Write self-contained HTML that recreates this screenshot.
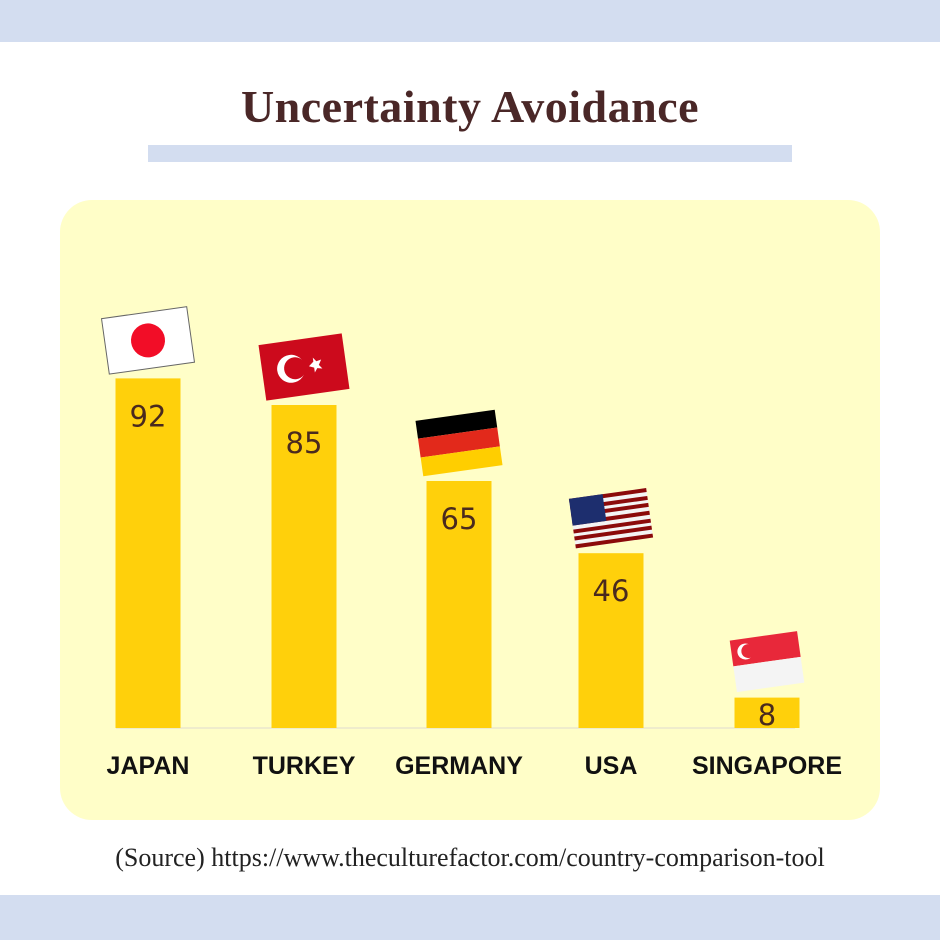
<!DOCTYPE html>
<html><head><meta charset="utf-8">
<style>
html,body{margin:0;padding:0;}
body{width:940px;height:940px;position:relative;background:#fff;overflow:hidden;font-family:"Liberation Sans",sans-serif;}
.band{position:absolute;left:0;width:940px;background:#d3ddf0;}
#title{position:absolute;left:0;width:940px;top:80px;text-align:center;font-family:"Liberation Serif",serif;font-weight:bold;font-size:46px;color:#4a2727;letter-spacing:0.5px;}
#uline{position:absolute;left:148px;top:145px;width:644px;height:17px;background:#d3ddf0;}
#panel{position:absolute;left:60px;top:200px;width:820px;height:620px;background:#fffec8;border-radius:32px;}
#source{position:absolute;left:0;width:940px;top:843px;text-align:center;font-family:"Liberation Serif",serif;font-size:26px;color:#222;}
</style></head><body>
<div class="band" style="top:0;height:42px"></div>
<div class="band" style="top:895px;height:45px"></div>
<div id="title">Uncertainty Avoidance</div>
<div id="uline"></div>
<div id="panel"></div>
<svg id="chart" width="940" height="940" style="position:absolute;left:0;top:0">
<defs>
<g id="flag-japan"><rect width="86" height="56" fill="#fff" stroke="#666" stroke-width="1"/><circle cx="43" cy="28" r="17" fill="#f20d27"/></g>
<g id="flag-turkey"><rect width="84" height="56" fill="#cc0a1c"/><circle cx="29" cy="28" r="14" fill="#fff"/><circle cx="33" cy="28" r="11" fill="#cc0a1c"/><polygon points="47,28 52,24 52,20 55,24 60,23 57,28 60,32 55,31 52,35 52,30" fill="#fff"/></g>
<g id="flag-germany"><rect width="80" height="18" y="0" fill="#000"/><rect width="80" height="19" y="18" fill="#e2291b"/><rect width="80" height="19" y="37" fill="#ffce00"/></g>
<g id="flag-usa"><rect width="78" height="50" fill="#f4f4f4"/>
<rect y="0" width="78" height="4" fill="#8b0a0a"/><rect y="8" width="78" height="4" fill="#8b0a0a"/><rect y="15" width="78" height="4" fill="#8b0a0a"/><rect y="23" width="78" height="4" fill="#8b0a0a"/><rect y="31" width="78" height="4" fill="#8b0a0a"/><rect y="38" width="78" height="4" fill="#8b0a0a"/><rect y="46" width="78" height="4" fill="#8b0a0a"/>
<rect width="34" height="27" fill="#1d2e6e"/></g>
<g id="flag-singapore"><rect width="68" height="26" fill="#e8283a"/><rect y="26" width="68" height="26" fill="#f4f4f4"/><circle cx="14" cy="13" r="8" fill="#fff"/><circle cx="17" cy="13" r="7" fill="#e8283a"/></g>
</defs>
<line x1="116" x2="795" y1="728" y2="728" stroke="#efeccc" stroke-width="2"/>
</svg>
<div id="source">(Source) https://www.theculturefactor.com/country-comparison-tool</div>
<script>
const categories = ["JAPAN","TURKEY","GERMANY","USA","SINGAPORE"];
const values = [92,85,65,46,8];
const flags = ["flag-japan","flag-turkey","flag-germany","flag-usa","flag-singapore"];
const svg = document.getElementById('chart');
const NS = 'http://www.w3.org/2000/svg';
const baseY = 728, unit = 3.8, barW = 65;
const centers = [148, 304, 459, 611, 767];
function yScale(v){ return baseY - v*unit; }
function xScale(i){ return centers[i]; }
categories.forEach((c,i)=>{
  const cx = xScale(i), top = yScale(values[i]);
  const r = document.createElementNS(NS,'rect');
  
  
  r.setAttribute('x', cx-barW/2); r.setAttribute('y', top);
  r.setAttribute('width', barW); r.setAttribute('height', baseY-top);
  r.setAttribute('fill', '#ffd00b');
  svg.appendChild(r);
  const t = document.createElementNS(NS,'text');
  
  
  t.setAttribute('x', cx); t.setAttribute('y', Math.min(top+48, baseY-3));
  t.setAttribute('text-anchor','middle'); t.setAttribute('font-size','29');
  t.setAttribute('font-family','"DejaVu Sans", sans-serif'); t.setAttribute('fill','#4a2a1e');
  t.textContent = values[i];
  svg.appendChild(t);
  const l = document.createElementNS(NS,'text');
  
  
  l.setAttribute('x', cx); l.setAttribute('y', 774);
  l.setAttribute('text-anchor','middle'); l.setAttribute('font-size','25');
  l.setAttribute('font-weight','bold'); l.setAttribute('fill','#111');
  l.setAttribute('font-family','"Liberation Sans", sans-serif');
  l.textContent = c;
  svg.appendChild(l);
  const u = document.createElementNS(NS,'use');
  
  
  u.setAttribute('href', '#'+flags[i]);
  const fw = [86,84,80,78,68][i], fh = [56,56,56,50,52][i];
  u.setAttribute('transform', 'translate('+(cx-fw/2)+','+(top-fh-10)+') rotate(-8 '+fw/2+' '+fh/2+')');
  svg.appendChild(u);
});
</script>
</body></html>
